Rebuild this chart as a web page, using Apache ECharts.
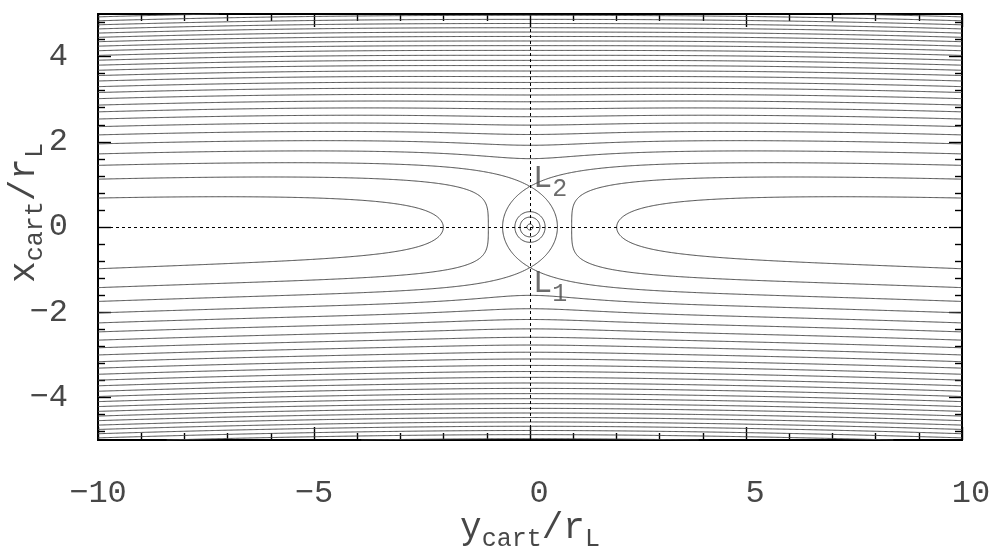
<!DOCTYPE html>
<html>
<head>
<meta charset="utf-8">
<script src="https://cdn.jsdelivr.net/npm/echarts@6/dist/echarts.min.js"></script>
<style>
  html, body { margin: 0; padding: 0; background: #fff; }
  #chart { width: 992px; height: 558px; }
</style>
</head>
<body>
<div id="chart"></div>
<script>
// ---- axis ticks ----
const yCartRange = [-10, 10];          // horizontal axis (azimuthal direction)
const xCartRange = [-5, 5];            // vertical axis (radial direction)
const xCartMajorTicks = [-4, -2, 0, 2, 4];
const xCartMinorStep = 0.4;

// ---- contour levels of the zero-velocity function ----
const outerLevels = [0.86, 1.79, 2.72, 3.65, 4.58, 5.51, 6.44, 7.37, 8.30, 9.23,
  10.16, 11.09, 12.02, 12.95, 13.88, 14.81, 15.74, 16.67, 17.60, 18.53,
  19.46, 20.39, 21.32, 22.25, 23.18, 24.11, 25.04, 25.97, 26.90, 27.83];
// closed contours around the planet (inside the Hill lens)
const innerLevels = [4.93, 7.5, 24.7];

// ---- model constants ----
const LAGRANGE_DIST = 0.952;   // distance of L1/L2 from the planet, in r_L
const ORBIT_RADIUS = 333;      // orbital radius in r_L (curvature of far-field contours)
const PLANET_K = 2 * Math.pow(LAGRANGE_DIST, 3);

// Jacobi-like zero-velocity function; v = x_cart (radial), h = y_cart (azimuthal)
function zeroVelocity(h, v) {
  const rho = Math.hypot(ORBIT_RADIUS + v, h) - ORBIT_RADIUS;
  const r = Math.max(Math.hypot(v, h), 1e-6);
  return Math.min(rho * rho + PLANET_K / r, 1e6);
}

// ---- sample the field ----
const STEP = 0.02;
const NH = Math.round((yCartRange[1] - yCartRange[0]) / STEP) + 1;
const NV = Math.round((xCartRange[1] - xCartRange[0]) / STEP) + 1;
const F = new Float64Array(NH * NV);
for (let j = 0; j < NV; j++) {
  const v = xCartRange[0] + j * STEP;
  for (let i = 0; i < NH; i++) {
    F[j * NH + i] = zeroVelocity(yCartRange[0] + i * STEP, v);
  }
}

// level through the saddle points L1/L2
const separatrixLevel = zeroVelocity(0, LAGRANGE_DIST);

// ---- marching squares with segment stitching ----
function traceLevel(level) {
  const segA = [], segB = [];
  const adj = new Map();
  const link = (e, s) => { const l = adj.get(e); if (l) l.push(s); else adj.set(e, [s]); };
  const addSeg = (e1, e2) => {
    const s = segA.length; segA.push(e1); segB.push(e2); link(e1, s); link(e2, s);
  };
  for (let j = 0; j < NV - 1; j++) {
    for (let i = 0; i < NH - 1; i++) {
      const n = j * NH + i;
      const a = F[n], b = F[n + 1], c = F[n + NH + 1], d = F[n + NH];
      const idx = (a > level ? 1 : 0) | (b > level ? 2 : 0) | (c > level ? 4 : 0) | (d > level ? 8 : 0);
      if (idx === 0 || idx === 15) continue;
      const e0 = n * 2, e1 = (n + 1) * 2 + 1, e2 = (n + NH) * 2, e3 = n * 2 + 1;
      switch (idx) {
        case 1: case 14: addSeg(e3, e0); break;
        case 2: case 13: addSeg(e0, e1); break;
        case 3: case 12: addSeg(e3, e1); break;
        case 4: case 11: addSeg(e1, e2); break;
        case 6: case 9: addSeg(e0, e2); break;
        case 7: case 8: addSeg(e2, e3); break;
        case 5: {
          const m = (a + b + c + d) / 4;
          if (m > level) { addSeg(e0, e1); addSeg(e2, e3); }
          else { addSeg(e3, e0); addSeg(e1, e2); }
          break;
        }
        case 10: {
          const m = (a + b + c + d) / 4;
          if (m > level) { addSeg(e3, e0); addSeg(e1, e2); }
          else { addSeg(e0, e1); addSeg(e2, e3); }
          break;
        }
      }
    }
  }
  const point = (e) => {
    const n = e >> 1;
    const j = Math.floor(n / NH), i = n % NH;
    const f0 = F[n];
    if ((e & 1) === 0) {
      const t = (level - f0) / (F[n + 1] - f0);
      return [yCartRange[0] + (i + t) * STEP, xCartRange[0] + j * STEP];
    }
    const t = (level - f0) / (F[n + NH] - f0);
    return [yCartRange[0] + i * STEP, xCartRange[0] + (j + t) * STEP];
  };
  const used = new Uint8Array(segA.length);
  const walk = (start) => {
    const out = [];
    let e = start;
    for (;;) {
      const list = adj.get(e);
      let next = -1;
      for (const s of list) if (!used[s]) { next = s; break; }
      if (next < 0) break;
      used[next] = 1;
      e = segA[next] === e ? segB[next] : segA[next];
      out.push(e);
    }
    return out;
  };
  const lines = [];
  for (let s = 0; s < segA.length; s++) {
    if (used[s]) continue;
    used[s] = 1;
    const fwd = walk(segB[s]);
    const back = walk(segA[s]).reverse();
    const edges = back.concat([segA[s], segB[s]], fwd);
    lines.push(edges.map(point));
  }
  return lines;
}

const maxRadius = (pl) => pl.reduce((m, p) => Math.max(m, Math.hypot(p[0], p[1])), 0);

const contourData = [];
outerLevels.forEach((lv) => {
  const level = Math.abs(lv - separatrixLevel) < 0.03 ? separatrixLevel : lv;
  traceLevel(level).forEach((pl) => {
    // small rings around the planet belong to the inner family only
    if (maxRadius(pl) < 0.85 * LAGRANGE_DIST) return;
    contourData.push({ coords: pl });
  });
});
innerLevels.forEach((lv) => {
  traceLevel(lv).forEach((pl) => {
    if (maxRadius(pl) < LAGRANGE_DIST) contourData.push({ coords: pl });
  });
});

// ---- styling ----
const FONT = 'Liberation Mono';
const TEXT_COLOR = '#474747';
const nameRich = {
  v: { fontFamily: FONT, fontSize: 36, color: TEXT_COLOR, lineHeight: 32, verticalAlign: 'top' },
  s: { fontFamily: FONT, fontSize: 25, color: TEXT_COLOR, lineHeight: 24, verticalAlign: 'top', padding: [17, 0, 0, 0] }
};
const tickRich = {
  n: { fontFamily: FONT, fontSize: 32, color: TEXT_COLOR },
  p: { fontFamily: FONT, fontSize: 32, color: TEXT_COLOR, padding: [0, 0, 0, 18] }
};

const frameLine = { show: true, onZero: false, lineStyle: { color: '#000', width: 2 } };
const majorTick = { show: true, inside: true, length: 13, lineStyle: { color: '#000', width: 1.4 } };
const minorTick = { show: true, splitNumber: 5, length: 7, lineStyle: { color: '#000', width: 1.4 } };

const xMinor = [];
for (let k = Math.ceil(xCartRange[0] / xCartMinorStep); k * xCartMinorStep <= xCartRange[1] + 1e-9; k++) {
  const val = +(k * xCartMinorStep).toFixed(4);
  if (xCartMajorTicks.indexOf(val) < 0) xMinor.push(val);
}

function verticalAxis(position, withLabels, ticks, len) {
  return {
    type: 'value', min: xCartRange[0], max: xCartRange[1], position: position,
    axisLine: frameLine,
    axisTick: { show: true, inside: true, length: len, customValues: ticks, lineStyle: { color: '#000', width: 1.4 } },
    axisLabel: withLabels ? {
      show: true, customValues: ticks, margin: 30,
      fontFamily: FONT, fontSize: 32, color: TEXT_COLOR,
      formatter: (v) => (v < 0 ? '\u2212' + Math.abs(v) : String(v))
    } : { show: false },
    splitLine: { show: false }
  };
}

const option = {
  animation: false,
  backgroundColor: '#fff',
  grid: { left: 98, right: 30, top: 14, bottom: 118, containLabel: false, outerBoundsMode: 'none' },
  xAxis: [
    {
      type: 'value', min: yCartRange[0], max: yCartRange[1], interval: 5, position: 'bottom',
      axisLine: frameLine, axisTick: majorTick, minorTick: minorTick,
      splitLine: { show: false }, minorSplitLine: { show: false },
      axisLabel: {
        margin: 38, rich: tickRich,
        formatter: (v) => (v < 0 ? '{n|\u2212' + Math.abs(v) + '}' : '{p|' + v + '}')
      },
      name: '{v|y}{s|cart}{v|/r}{s|L}', nameLocation: 'middle', nameGap: 70, nameMoveOverlap: false,
      nameTextStyle: { rich: nameRich }
    },
    {
      type: 'value', min: yCartRange[0], max: yCartRange[1], interval: 5, position: 'top',
      axisLine: frameLine, axisTick: majorTick, minorTick: minorTick,
      splitLine: { show: false }, minorSplitLine: { show: false },
      axisLabel: { show: false }
    }
  ],
  yAxis: [
    Object.assign(verticalAxis('left', true, xCartMajorTicks, 13), {
      name: '{v|x}{s|cart}{v|/r}{s|L}', nameLocation: 'middle', nameRotate: 90, nameGap: 60,
      nameMoveOverlap: false,
      nameTextStyle: { rich: nameRich, padding: [0, 0, 0, 28] }
    }),
    verticalAxis('left', false, xMinor, 7),
    verticalAxis('right', false, xCartMajorTicks, 13),
    verticalAxis('right', false, xMinor, 7)
  ],
  series: [
    {
      type: 'lines', coordinateSystem: 'cartesian2d', polyline: true, silent: true,
      xAxisIndex: 0, yAxisIndex: 0, z: 1,
      lineStyle: { color: '#444', width: 1, opacity: 1 },
      data: contourData
    },
    {
      type: 'scatter', xAxisIndex: 0, yAxisIndex: 0, symbolSize: 0, silent: true, z: 5,
      data: [
        { value: [0, LAGRANGE_DIST], label: { position: [3, -24], formatter: '{m|L}{s|2}' } },
        { value: [0, -LAGRANGE_DIST], label: { position: [3, 0], formatter: '{m|L}{s|1}' } }
      ],
      label: {
        show: true, align: 'left', verticalAlign: 'top',
        rich: {
          m: { fontFamily: FONT, fontSize: 32, color: TEXT_COLOR, lineHeight: 28, verticalAlign: 'top' },
          s: { fontFamily: FONT, fontSize: 25, color: TEXT_COLOR, lineHeight: 24, verticalAlign: 'top', padding: [14, 0, 0, 0] }
        }
      },
      markLine: {
        silent: true, symbol: 'none', label: { show: false },
        lineStyle: { color: '#000', type: [3, 3], width: 1 },
        data: [{ xAxis: 0 }, { yAxis: 0 }]
      }
    }
  ]
};

const chart = echarts.init(document.getElementById('chart'), null, { renderer: 'canvas' });
chart.setOption(option);
</script>
</body>
</html>
